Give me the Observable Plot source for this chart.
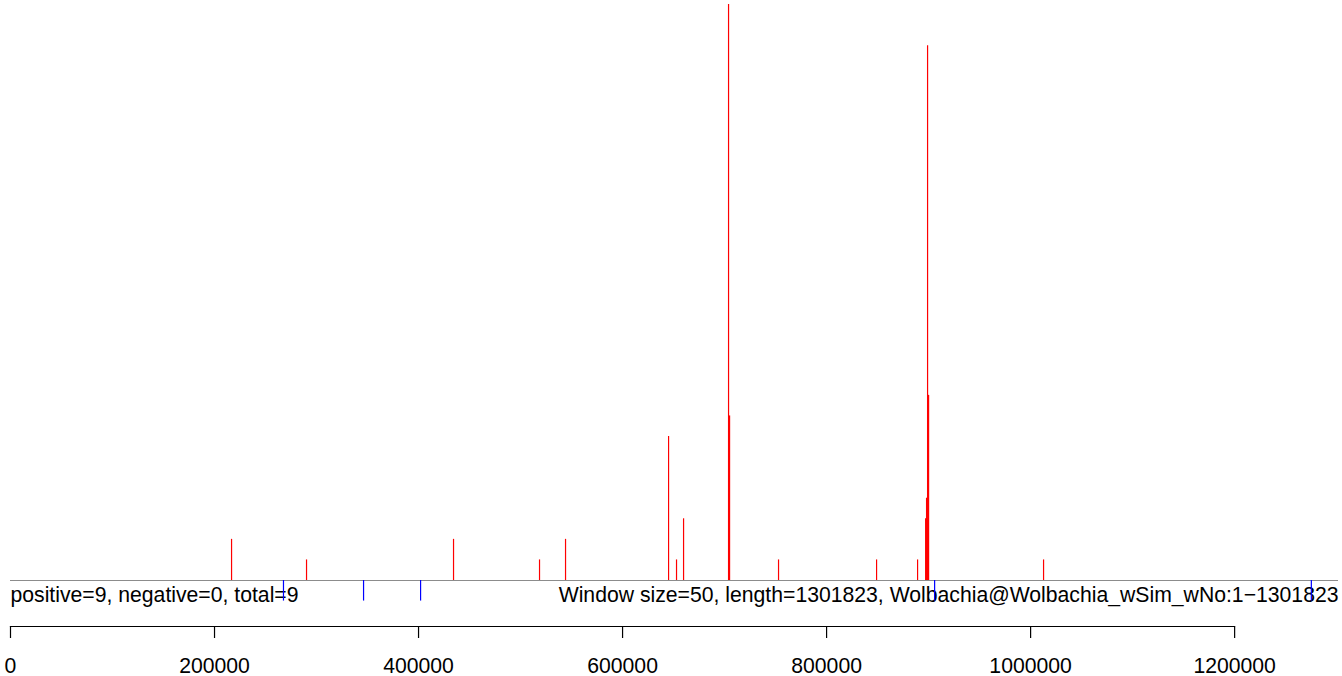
<!DOCTYPE html>
<html>
<head>
<meta charset="utf-8">
<script src="https://cdn.jsdelivr.net/npm/d3@7"></script>
<script src="https://cdn.jsdelivr.net/npm/@observablehq/plot@0.6"></script>
<style>
  html, body { margin: 0; padding: 0; background: #fff; }
</style>
</head>
<body>
<div id="chart"></div>
<script>
const genomeLength = 1301823;
const posPositions = [216700, 290200, 434300, 518600, 544100, 645100, 652900, 659800, 703900, 704900, 752900, 849000, 889200, 897100, 898000, 899000, 900000, 1012700];
const posCounts    = [2, 1, 2, 1, 2, 7, 1, 3, 28, 8, 1, 1, 1, 3, 4, 26, 9, 1];
const negPositions = [267600, 346100, 402000, 905900, 1275200];
const negCounts    = [-1, -1, -1, -1, -1];
const tickValues = [0, 200000, 400000, 600000, 800000, 1000000, 1200000];
const leftLabel = "positive=9, negative=0, total=9";
const rightLabel = "Window size=50, length=1301823, Wolbachia@Wolbachia_wSim_wNo:1\u22121301823";

const pos = posPositions.map((x, i) => ({x, v: posCounts[i]}));
const neg = negPositions.map((x, i) => ({x, v: negCounts[i]}));

const chart = Plot.plot({
  width: 1342,
  height: 676,
  marginLeft: 10,
  marginRight: 108,
  marginTop: 0,
  marginBottom: 50,
  style: {fontFamily: "'Liberation Sans', Arial, sans-serif", fontSize: "21px", background: "#fff"},
  x: {domain: [0, genomeLength], range: [10, 1338]},
  y: {domain: [0, 28], range: [580, 4], axis: null},
  marks: [
    Plot.ruleY([0], {x1: 0, x2: genomeLength, stroke: "#8c8c8c", strokeWidth: 1}),
    Plot.text([leftLabel], {x: () => 0, y: () => 0, text: d => d, textAnchor: "start", lineAnchor: "top", dy: 6, fill: "#000", fontSize: 21.2}),
    Plot.text([rightLabel], {x: () => genomeLength, y: () => 0, text: d => d, textAnchor: "end", lineAnchor: "top", dy: 6, fill: "#000", fontSize: 21.2}),
    Plot.ruleX(pos, {x: "x", y1: 0, y2: "v", stroke: "#ff0000", strokeWidth: 1.2}),
    Plot.ruleX(neg, {x: "x", y1: 0, y2: "v", stroke: "#0000ff", strokeWidth: 1.2}),
    Plot.frame({anchor: "bottom", stroke: "#000", strokeWidth: 1.2}),
    Plot.axisX({ticks: tickValues, tickFormat: d => String(d), tickSize: 12, tickPadding: 19, fontSize: 21.2, stroke: "#000", strokeWidth: 1.2, label: null, color: "#000"})
  ]
});
document.getElementById("chart").appendChild(chart);
</script>
</body>
</html>
